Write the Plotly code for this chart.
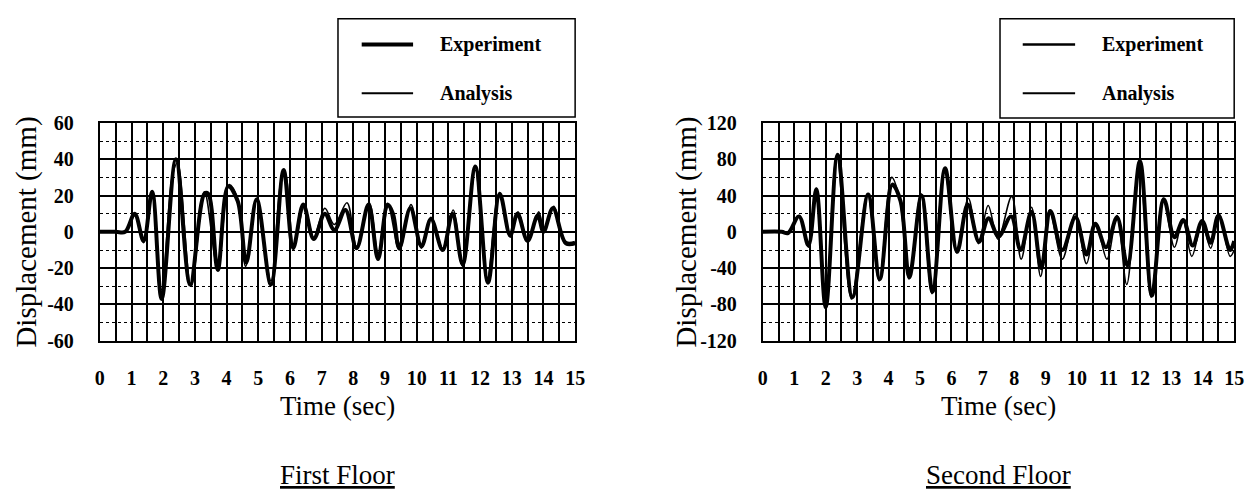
import plotly.graph_objects as go

# ---------------- data ----------------
ticks_time = list(range(0, 16))
ticks_y1 = [-60, -40, -20, 0, 20, 40, 60]
ticks_y2 = [-120, -80, -40, 0, 40, 80, 120]

# First floor
t1_exp = [0, 0.5, 0.8, 1.1, 1.38, 1.65, 1.95, 2.4, 2.85, 3.3, 3.42, 3.72, 4.05, 4.35, 4.62,
          4.95, 5.4, 5.8, 6.1, 6.42, 6.75, 7.1, 7.4, 7.75, 8.1, 8.48, 8.78, 9.08, 9.25, 9.45,
          9.8, 10.15, 10.45, 10.82, 11.13, 11.45, 11.85, 12.25, 12.62, 12.95, 13.18, 13.5,
          13.82, 14.0, 14.3, 14.7, 15.0]
d1_exp = [0, 0, 0, 10, -5, 22, -37, 40, -29, 21, 21, -21, 25, 17, -17,
          18, -29, 34, -9, 15, -4, 10, 1, 12, -9, 15, -15, 15, 10, -9,
          13, -8, 7, -10, 10, -18, 36, -28, 21, -2, 10, -5,
          9, 0, 13, -6, -6]

t1_ana = [0, 0.5, 0.8, 1.1, 1.38, 1.65, 1.95, 2.28, 2.45, 2.88, 3.3, 3.72, 4.08, 4.35, 4.6,
          4.95, 5.4, 5.72, 5.85, 6.12, 6.45, 6.75, 7.1, 7.4, 7.8, 8.1, 8.5, 8.8, 9.1, 9.45,
          9.82, 10.15, 10.45, 10.82, 11.15, 11.45, 11.85, 12.22, 12.6, 12.95, 13.2, 13.5,
          13.85, 14.02, 14.32, 14.7, 15.0]
d1_ana = [0, 0, 0, 9, -6, 20, -32, 30, 38, -30, 22, -20, 26, 18, -19,
          17, -27, 28, 32, -8, 14, -3, 13, 4, 16, -8, 16, -14, 14, -10,
          15, -9, 8, -9, 12, -19, 34, -27, 21, -3, 11, -5,
          11, 0, 14, -7, -7]

# Second floor
t2_exp = [0, 0.6, 0.8, 1.15, 1.45, 1.7, 2.0, 2.38, 2.85, 3.35, 3.72, 4.12, 4.38, 4.66,
          5.05, 5.4, 5.8, 6.18, 6.52, 6.88, 7.18, 7.5, 7.9, 8.2, 8.55, 8.86, 9.15, 9.53,
          9.95, 10.3, 10.58, 10.92, 11.27, 11.6, 12.0, 12.38, 12.76, 13.1, 13.38, 13.68,
          13.98, 14.25, 14.5, 14.87, 15.0]
d2_exp = [0, 0, -1.5, 17, -15, 47, -83, 85, -72, 41, -52, 52, 34, -50,
          40, -66, 70, -22, 30, -11, 15, -5, 17, -20, 22, -40, 23, -20,
          16, -25, 9, -17, 16, -37, 78, -70, 36, -6, 13, -15,
          12, -12, 18, -20, -10]

t2_ana = [0, 0.6, 0.8, 1.15, 1.45, 1.7, 2.0, 2.35, 2.82, 3.33, 3.7, 4.1, 4.36, 4.65,
          5.03, 5.38, 5.78, 6.17, 6.54, 6.86, 7.17, 7.48, 7.92, 8.22, 8.55, 8.84, 9.12, 9.53,
          9.94, 10.3, 10.6, 10.95, 11.27, 11.58, 11.98, 12.36, 12.74, 13.1, 13.36, 13.65,
          13.98, 14.25, 14.52, 14.87, 15.0]
d2_ana = [0, 0, -1, 18, -17, 48, -85, 84, -74, 42, -54, 60, 35, -52,
          42, -68, 69, -23, 37, -13, 29, -8, 39, -30, 27, -49, 24, -30,
          20, -35, 9, -30, 18, -58, 76, -72, 37, -17, 14, -27,
          10, -18, 20, -27, -20]

series_names = ["Experiment", "Analysis"]
panel_titles = ["First Floor", "Second Floor"]
y_title = "Displacement (mm)"
x_title = "Time (sec)"

# ---------------- layout geometry (pixels) ----------------
W, H = 1260, 500
TOP, BOT = 117, 345
LX0, LX1 = 96, 577
RX0, RX1 = 767, 1244
FONT = "Liberation Serif"

def px(x):
    return x / W

def py(y):
    return 1 - y / H

fig = go.Figure()

def add_panel(tx_e, dy_e, tx_a, dy_a, xa, ya):
    fig.add_trace(go.Scatter(x=tx_e, y=dy_e, mode="lines", name=series_names[0],
                             line=dict(color="black", width=4, shape="spline", smoothing=1.0),
                             xaxis=xa, yaxis=ya, showlegend=False, hoverinfo="skip"))
    fig.add_trace(go.Scatter(x=tx_a, y=dy_a, mode="lines", name=series_names[1],
                             line=dict(color="black", width=1.6, shape="spline", smoothing=1.0),
                             xaxis=xa, yaxis=ya, showlegend=False, hoverinfo="skip"))

add_panel(t1_exp, d1_exp, t1_ana, d1_ana, "x", "y")
add_panel(t2_exp, d2_exp, t2_ana, d2_ana, "x2", "y2")

tickfont = dict(family=FONT, size=20, color="black", weight="bold")

def xaxis(domain, anchor):
    return dict(domain=domain, anchor=anchor, range=[0, 15], tickmode="array",
                tickvals=ticks_time, ticktext=[str(t) for t in ticks_time],
                showgrid=True, gridcolor="black", gridwidth=1.5,
                minor=dict(dtick=0.5, showgrid=True, gridcolor="black", gridwidth=1.5),
                showline=True, mirror=True, linecolor="black", linewidth=2,
                zeroline=False, ticks="", tickfont=tickfont, ticklabelstandoff=18,
                fixedrange=True)

def yaxis(domain, anchor, tv):
    lim = tv[-1]
    step = tv[1] - tv[0]
    return dict(domain=domain, anchor=anchor, range=[-lim, lim], tickmode="array",
                tickvals=tv, ticktext=[str(v) for v in tv],
                showgrid=True, gridcolor="black", gridwidth=2,
                minor=dict(tick0=0, dtick=step / 2, showgrid=True, gridcolor="black",
                           gridwidth=1, griddash="dot"),
                showline=True, mirror=True, linecolor="black", linewidth=2,
                zeroline=False, ticks="", tickfont=tickfont, ticklabelstandoff=20,
                fixedrange=True)

ydom = [py(BOT), py(TOP)]
fig.update_layout(
    width=W, height=H, autosize=False,
    margin=dict(l=0, r=0, t=0, b=0),
    paper_bgcolor="white", plot_bgcolor="white",
    showlegend=False,
    xaxis=xaxis([px(LX0), px(LX1)], "y"),
    yaxis=yaxis(ydom, "x", ticks_y1),
    xaxis2=xaxis([px(RX0), px(RX1)], "y2"),
    yaxis2=yaxis(ydom, "x2", ticks_y2),
)

shapes = []
annotations = []

def legend_box(x0, x1, y0, y1, sx0, sx1, tx, w_exp, w_ana):
    shapes.append(dict(type="rect", xref="paper", yref="paper",
                       x0=px(x0), x1=px(x1), y0=py(y1), y1=py(y0),
                       line=dict(color="black", width=1.5), fillcolor="white"))
    for yy, w, name in [(35, w_exp, series_names[0]), (86, w_ana, series_names[1])]:
        shapes.append(dict(type="line", xref="paper", yref="paper",
                           x0=px(sx0), x1=px(sx1), y0=py(yy), y1=py(yy),
                           line=dict(color="black", width=w)))
        annotations.append(dict(xref="paper", yref="paper", x=px(tx), y=py(yy),
                                xanchor="left", yanchor="middle", showarrow=False,
                                text=name, font=dict(family=FONT, size=20, color="black",
                                                     weight="bold")))

legend_box(337, 577, 8, 111, 361, 413, 438, 4, 2)
legend_box(1007, 1244, 8, 112, 1030, 1083, 1108, 2.5, 2)

for (x0, x1, ytx, title) in [(LX0, LX1, 22, panel_titles[0]), (RX0, RX1, 690, panel_titles[1])]:
    cx = (x0 + x1) / 2
    annotations.append(dict(xref="paper", yref="paper", x=px(cx), y=py(395),
                            xanchor="center", yanchor="top", showarrow=False,
                            text=x_title, font=dict(family=FONT, size=27, color="black")))
    annotations.append(dict(xref="paper", yref="paper", x=px(ytx), y=py((TOP + BOT) / 2),
                            xanchor="center", yanchor="middle", showarrow=False, textangle=-90,
                            text=y_title, font=dict(family=FONT, size=29, color="black")))
    annotations.append(dict(xref="paper", yref="paper", x=px(cx), y=py(485),
                            xanchor="center", yanchor="middle", showarrow=False,
                            text="<u>" + title + "</u>",
                            font=dict(family=FONT, size=27, color="black")))

fig.update_layout(shapes=shapes, annotations=annotations)
fig.write_html("out.html")
